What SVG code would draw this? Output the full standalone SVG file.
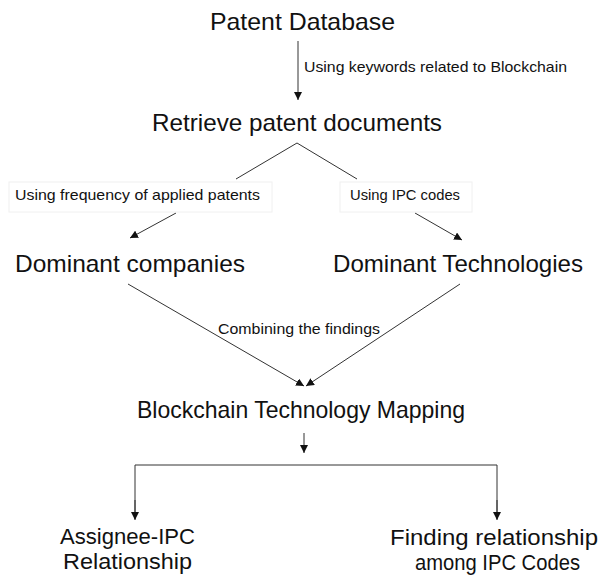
<svg xmlns="http://www.w3.org/2000/svg" width="605" height="580" viewBox="0 0 605 580">
<style>
.t{font-family:"Liberation Sans",Arial,sans-serif;fill:#111;}
.big{font-size:24px;}
.bot{font-size:22px;}
.sm{font-size:15px;}
.ln{stroke:#333;stroke-width:1;fill:none;}
.box{fill:#fff;stroke:#f0f0f0;stroke-width:1;}
</style>
<defs>
<marker id="ah" viewBox="0 0 10 10" refX="10" refY="5" markerWidth="8" markerHeight="8" markerUnits="userSpaceOnUse" orient="auto">
<path d="M0,0 L10,5 L0,10 z" fill="#111"/>
</marker>
</defs>
<g id="connectors">
<line class="ln" x1="298" y1="41" x2="298" y2="100" marker-end="url(#ah)"/>
<polyline class="ln" points="236,179 297,143 357,179"/>
<line class="ln" x1="176" y1="213" x2="130" y2="238" marker-end="url(#ah)"/>
<line class="ln" x1="415" y1="213" x2="462" y2="240" marker-end="url(#ah)"/>
<line class="ln" x1="128" y1="284" x2="304" y2="386" marker-end="url(#ah)"/>
<line class="ln" x1="460" y1="284" x2="306" y2="386" marker-end="url(#ah)"/>
<line class="ln" x1="304" y1="433" x2="304" y2="453" marker-end="url(#ah)"/>
<polyline class="ln" points="135,519 135,465 497,465 497,519" />
<line class="ln" x1="135" y1="500" x2="135" y2="520" marker-end="url(#ah)"/>
<line class="ln" x1="497" y1="500" x2="497" y2="520" marker-end="url(#ah)"/>
<text class="t sm" x="304" y="72" textLength="263" lengthAdjust="spacingAndGlyphs">Using keywords related to Blockchain</text>
<rect class="box" x="9" y="182" width="263" height="30"/>
<text class="t sm" x="15" y="200" textLength="245" lengthAdjust="spacingAndGlyphs">Using frequency of applied patents</text>
<rect class="box" x="340" y="182" width="132" height="30"/>
<text class="t sm" x="350" y="200" textLength="110" lengthAdjust="spacingAndGlyphs">Using IPC codes</text>
<text class="t sm" x="218" y="334" textLength="162" lengthAdjust="spacingAndGlyphs">Combining the findings</text>
</g>
<g id="patent-database"><text class="t big" x="210" y="30" textLength="185" lengthAdjust="spacingAndGlyphs">Patent Database</text></g>
<g id="retrieve"><text class="t big" x="152" y="131" textLength="290" lengthAdjust="spacingAndGlyphs">Retrieve patent documents</text></g>
<g id="dominant-companies"><text class="t big" x="15" y="272" textLength="230" lengthAdjust="spacingAndGlyphs">Dominant companies</text></g>
<g id="dominant-technologies"><text class="t big" x="333" y="272" textLength="250" lengthAdjust="spacingAndGlyphs">Dominant Technologies</text></g>
<g id="mapping"><text class="t big" x="137" y="418" textLength="328" lengthAdjust="spacingAndGlyphs">Blockchain Technology Mapping</text></g>
<g id="assignee-ipc">
<text class="t bot" x="60" y="544" textLength="135" lengthAdjust="spacingAndGlyphs">Assignee-IPC</text>
<text class="t bot" x="63" y="569" textLength="129" lengthAdjust="spacingAndGlyphs">Relationship</text>
</g>
<g id="ipc-relationship">
<text class="t bot" x="390" y="545" textLength="208" lengthAdjust="spacingAndGlyphs">Finding relationship</text>
<text class="t bot" x="415" y="570" textLength="165" lengthAdjust="spacingAndGlyphs">among IPC Codes</text>
</g>
</svg>
